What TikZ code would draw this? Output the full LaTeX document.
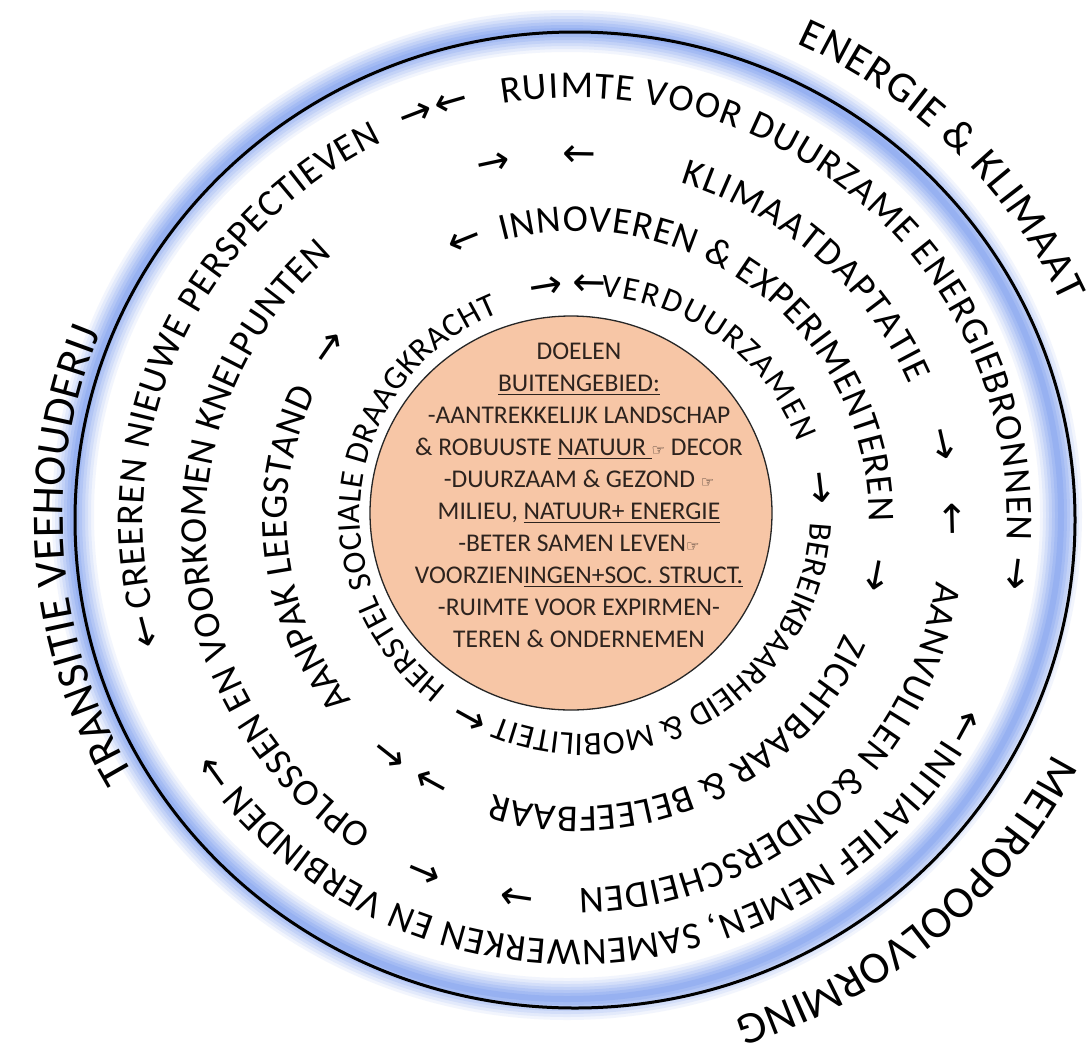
\documentclass[tikz,border=0pt]{standalone}
\usepackage{fontspec}
\setmainfont{Carlito}
\newfontfamily\arrowfont{DejaVu Sans}
\usetikzlibrary{decorations.text}
\definecolor{peach}{RGB}{247,198,166}
\definecolor{glowblue}{RGB}{100,140,235}
\definecolor{inktext}{RGB}{45,35,30}
\newcommand\ringfont{\fontsize{38}{46}\selectfont}
\newcommand\innerfont{\fontsize{33}{40}\selectfont}
\newcommand\outerfont{\fontsize{45}{54}\selectfont}
\newcommand\energyfont{\fontsize{43}{52}\selectfont}
\newcommand\hand{{\arrowfont\fontsize{15}{15}\selectfont\char"261E}}
\newsavebox\ulbox
\newcommand\ul[1]{\sbox\ulbox{#1}\rlap{\rule[-4pt]{\wd\ulbox}{1.4pt}}\usebox\ulbox}
% #1 centre, #2 x radius, #3 y radius, #4 start angle, #5 end angle, #6 font, #7 text
\newcommand\ringtext[7]{%
  \path[decorate, decoration={text along path, text={|#6|#7}, text align={fit to path}}]
    ([shift={(#4:#2pt and #3pt)}]#1) arc[start angle=#4, end angle=#5, x radius=#2pt, y radius=#3pt];}
% #1 name, #2 centre, #3 x radius, #4 y radius, #5 angle, #6 glyph
\newcommand\ringarrow[6]{%
  \node[arrowglyph, rotate={#5-90}] (#1) at ([shift={(#5:#3pt and #4pt)}]#2) {#6};}
\begin{document}
\begin{tikzpicture}[x=1pt,y=1pt,
  arrowglyph/.style={font=\arrowfont\fontsize{40}{40}\selectfont, inner sep=0pt, text=black},
  goalstext/.style={align=center, font=\fontsize{25.5}{32}\selectfont, text=inktext, inner sep=0pt}]
\useasboundingbox (0,0) rectangle (1090,-1050);
\fill[white] (0,0) rectangle (1090,-1050);
\coordinate (c0) at (575,-520);
\coordinate (cg) at (567,-515);
\coordinate (c1) at (575,-519);
\coordinate (c2) at (573,-528);
\coordinate (c3) at (578,-519);
\coordinate (c4) at (585,-515);
\coordinate (cp) at (571,-513);
% glow ring
\foreach \w/\o in {42/0.08, 36/0.1, 30/0.12, 24/0.14, 18/0.16, 12/0.18, 6/0.2}{
  \draw[glowblue, line width=\w pt, opacity=\o] (cg) ellipse [x radius=494pt, y radius=484pt];
}
\draw[black, line width=3pt] (c0) ellipse [x radius=500pt, y radius=488pt];
% central disc
\draw[fill=peach, draw=black!85, line width=1.3pt] (cp) ellipse [x radius=201pt, y radius=197pt];
\node[goalstext] (goals) at (579,-495) {DOELEN\\
\ul{BUITENGEBIED:}\\
-AANTREKKELIJK LANDSCHAP\\
\& ROBUUSTE \ul{NATUUR\ }\hand{} DECOR\\
-DUURZAAM \& GEZOND \hand\\
MILIEU, \ul{NATUUR+ ENERGIE}\\
-BETER SAMEN LEVEN\hand\\
VOORZIEN\ul{INGEN+SOC. STRUCT.}\\
-RUIMTE VOOR EXPIRMEN-\\
TEREN \& ONDERNEMEN};
% outer labels
\ringtext{c0}{535}{524}{65.5}{24.5}{\energyfont}{ENERGIE {\&} KLIMAAT}
\ringtext{c0}{534}{522}{-26.5}{-72.5}{\outerfont}{METROPOOLVORMING}
\ringtext{c0}{512}{501}{210.5}{158}{\outerfont}{TRANSITIE VEEHOUDERIJ}
% ring 1
\ringtext{c1}{432}{421}{192}{116.5}{\ringfont}{CREEREN NIEUWE PERSPECTIEVEN}
\ringtext{c1}{432}{421}{99.7}{-2.9}{\ringfont}{RUIMTE VOOR DUURZAME ENERGIEBRONNEN}
\ringtext{c1}{432}{421}{-31.5}{-141}{\ringfont}{INITIATIEF NEMEN, SAMENWERKEN EN VERBINDEN}
\ringarrow{a11}{c1}{443}{432}{195}{←}
\ringarrow{a12}{c1}{443}{432}{111}{→}
\ringarrow{a13}{c1}{443}{432}{106.2}{←}
\ringarrow{a14}{c1}{443}{432}{-7.3}{→}
\ringarrow{a15}{c1}{443}{432}{-28.7}{←}
\ringarrow{a16}{c1}{443}{432}{215.8}{→}
% ring 2
\ringtext{c2}{367}{361}{237}{131}{\ringfont}{OPLOSSEN EN VOORKOMEN KNELPUNTEN}
\ringtext{c2}{367}{361}{73}{23.5}{\ringfont}{KLIMAATDAPTATIE}
\ringtext{c2}{367}{361}{-8.5}{-89}{\ringfont}{AANVULLEN {\&}ONDERSCHEIDEN}
\ringarrow{a21}{c2}{378}{372}{102.1}{→}
\ringarrow{a22}{c2}{378}{372}{89.1}{←}
\ringarrow{a23}{c2}{378}{372}{12.9}{→}
\ringarrow{a24}{c2}{378}{372}{1.4}{←}
\ringarrow{a25}{c2}{378}{372}{-98.5}{→}
\ringarrow{a26}{c2}{378}{372}{-113}{←}
% ring 3
\ringtext{c3}{291}{288}{219}{154}{\ringfont}{AANPAK LEEGSTAND}
\ringtext{c3}{291}{288}{105}{-0.5}{\ringfont}{INNOVEREN {\&} EXPERIMENTEREN}
\ringtext{c3}{291}{288}{-23.5}{-107}{\ringfont}{ZICHTBAAR {\&} BELEEFBAAR}
\ringarrow{a31}{c3}{302}{299}{145.2}{→}
\ringarrow{a32}{c3}{302}{299}{111.9}{←}
\ringarrow{a33}{c3}{302}{299}{-10.8}{→}
\ringarrow{a34}{c3}{302}{299}{-118.8}{→}
\ringarrow{a35}{c3}{302}{299}{-128.3}{←}
% ring 4
\ringtext{c4}{225}{219}{232}{112.5}{\innerfont}{HERSTEL SOCIALE DRAAGKRACHT}
\ringtext{c4}{225}{219}{86}{19.5}{\innerfont}{VERDUURZAMEN}
\ringtext{c4}{225}{219}{-2}{-113}{\innerfont}{BEREIKBAARHEID {\&} MOBILITEIT}
\ringarrow{a41}{c4}{236}{230}{99.5}{→}
\ringarrow{a42}{c4}{236}{230}{88.8}{←}
\ringarrow{a43}{c4}{236}{230}{6.7}{→}
\ringarrow{a44}{c4}{236}{230}{-119}{←}
\end{tikzpicture}
\end{document}
